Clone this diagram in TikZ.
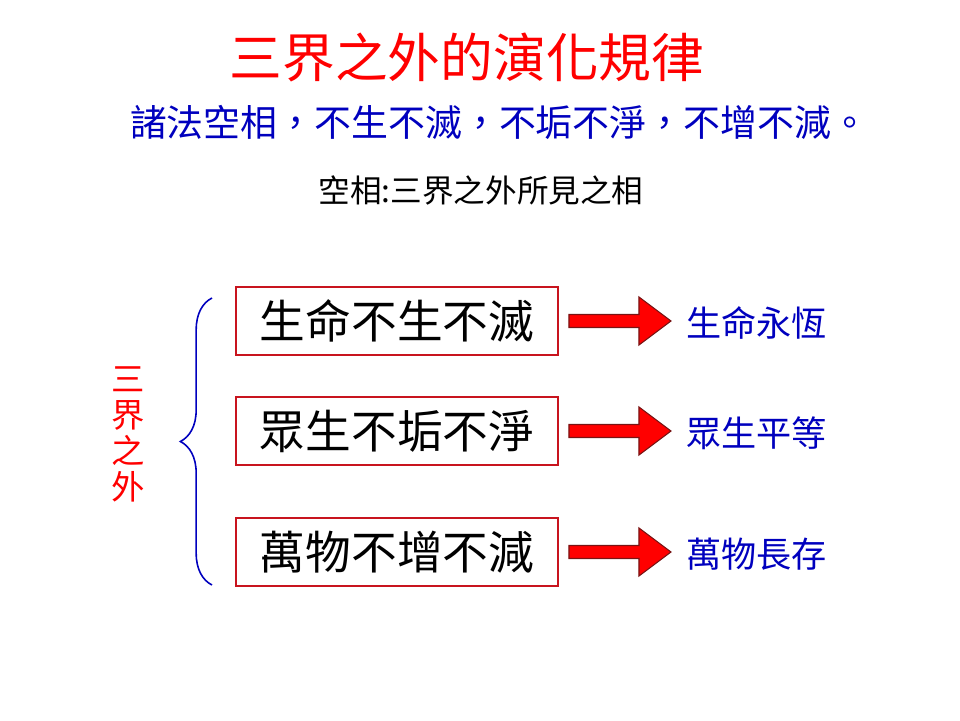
\documentclass[tikz,border=0pt]{standalone}
\usepackage{fontspec}
\newfontfamily\cjk{Noto Sans CJK TC}
\usetikzlibrary{positioning,calc,decorations.pathreplacing}
\definecolor{titlered}{RGB}{255,0,0}
\definecolor{textblue}{RGB}{0,0,190}
\definecolor{boxred}{RGB}{200,20,30}
\definecolor{arrowred}{RGB}{255,0,0}
\definecolor{arrowedge}{RGB}{120,20,20}
\begin{document}
\begin{tikzpicture}[x=0.02cm,y=-0.02cm,font=\cjk,
  titletext/.style={text=titlered,font=\cjk\fontsize{30}{34}\selectfont},
  sutratext/.style={text=textblue,font=\cjk\fontsize{21}{25}\selectfont},
  notetext/.style={text=black,font=\cjk\fontsize{18}{21}\selectfont},
  realmtext/.style={text=titlered,font=\cjk\fontsize{19}{20.5}\selectfont,align=center,inner sep=0pt},
  statebox/.style={draw=boxred,line width=1.1pt,minimum width=322*0.02cm,minimum height=68*0.02cm,font=\cjk\fontsize{26}{30}\selectfont},
  resulttext/.style={text=textblue,font=\cjk\fontsize{20}{24}\selectfont,inner sep=0pt,anchor=west},
  blockarrow/.style={draw=arrowedge,fill=arrowred,line width=0.6pt,line join=miter}]
\useasboundingbox (0,0) rectangle (960,720);
\node[titletext] (title) at (467,57) {三界之外的演化規律};
\node[sutratext] (sutra) at (499,122) {諸法空相，不生不滅，不垢不淨，不增不減。};
\node[notetext] (note) at (481,190) {空相:三界之外所見之相};
\node[realmtext] (realm) at (128,434) {三\\界\\之\\外};
\draw[textblue,line width=0.9pt,decorate,decoration={brace,amplitude=18pt}] (212,585) -- (212,298);
\foreach \y/\a/\b/\n in {321/生命不生不滅/生命永恆/1,431/眾生不垢不淨/眾生平等/2,552/萬物不增不減/萬物長存/3} {
  \node[statebox] (box\n) at (397,\y) {\a};
  \node[resulttext] (res\n) at ($(box\n.east)+(127,2)$) {\b};
  \draw[blockarrow] ($(box\n.east)+(10,-6.5)$) -- ++(70,0) -- ++(0,-17.5) -- ++(32,24) -- ++(-32,24) -- ++(0,-17.5) -- ++(-70,0) -- cycle;
}
\end{tikzpicture}
\end{document}
